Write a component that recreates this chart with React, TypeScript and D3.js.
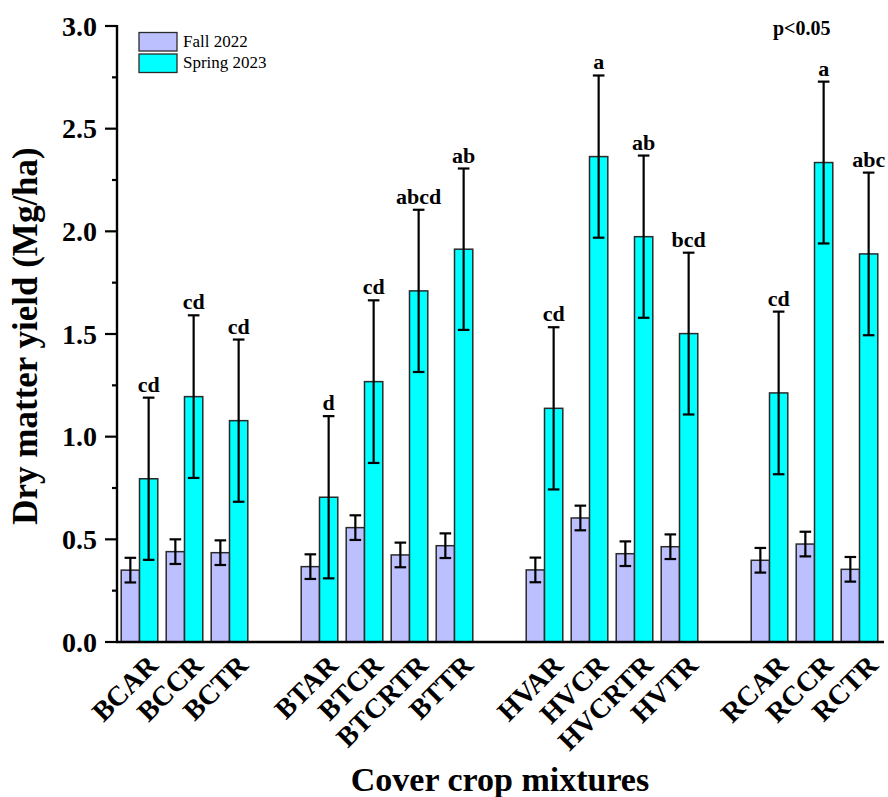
import * as d3 from "d3";

// cover crop mixtures, in four groups split by an empty slot
const mixtureGroups = [
  ["BCAR", "BCCR", "BCTR"],
  ["BTAR", "BTCR", "BTCRTR", "BTTR"],
  ["HVAR", "HVCR", "HVCRTR", "HVTR"],
  ["RCAR", "RCCR", "RCTR"],
];
const mixtures = mixtureGroups.flat();
const seasons = ["Fall 2022", "Spring 2023"];

const fallMean = [0.35, 0.44, 0.435, 0.367, 0.557, 0.424, 0.469, 0.351, 0.604, 0.43, 0.464, 0.398, 0.477, 0.354];
const fallErr = [0.06, 0.06, 0.06, 0.06, 0.06, 0.06, 0.06, 0.06, 0.06, 0.06, 0.06, 0.06, 0.06, 0.06];
const springMean = [0.795, 1.195, 1.078, 0.705, 1.268, 1.71, 1.913, 1.138, 2.364, 1.974, 1.502, 1.213, 2.335, 1.89];
const springErr = [0.395, 0.396, 0.395, 0.395, 0.396, 0.395, 0.393, 0.395, 0.395, 0.395, 0.394, 0.396, 0.394, 0.396];
const springLetters = ["cd", "cd", "cd", "d", "cd", "abcd", "ab", "cd", "a", "ab", "bcd", "cd", "a", "abc"];

const yMajor = [0, 0.5, 1.0, 1.5, 2.0, 2.5, 3.0];
const yMinor = [0.25, 0.75, 1.25, 1.75, 2.25, 2.75];

const W = 888;
const H = 797;
const left = 117;
const right = 882;
const top = 26;
const bottom = 642;
const serif = "'Liberation Serif', 'Times New Roman', serif";
const colors = { "Fall 2022": "#BCC0FF", "Spring 2023": "#00FFFF" };

export default function App() {
  // slots: mixtures with a gap slot between the groups
  const slots: string[] = [];
  mixtureGroups.forEach((g, i) => {
    if (i > 0) slots.push("gap" + i);
    slots.push(...g);
  });

  const x = d3.scaleBand(slots, [left, right]).padding(0);
  const sub = d3.scaleBand(seasons, [0, x.bandwidth()]).paddingInner(0).paddingOuter(0.23);
  const y = d3.scaleLinear([0, 3], [bottom, top]);
  const bw = sub.bandwidth();

  const rows = mixtures.flatMap((m, i) => [
    { m, s: "Fall 2022", v: fallMean[i], e: fallErr[i], letter: "" },
    { m, s: "Spring 2023", v: springMean[i], e: springErr[i], letter: springLetters[i] },
  ]);

  return (
    <div style={{ position: "absolute", left: 0, top: 0 }}>
      <svg width={W} height={H} style={{ display: "block", fontFamily: serif }}>
        <rect width={W} height={H} fill="#fff" />

        {/* bars */}
        {rows.map((d, i) => (
          <rect
            key={"b" + i}
            x={(x(d.m) ?? 0) + (sub(d.s) ?? 0)}
            y={y(d.v)}
            width={bw}
            height={y(0) - y(d.v)}
            fill={colors[d.s]}
            stroke="#2a2a2a"
            strokeWidth={1.5}
          />
        ))}

        {/* error bars */}
        {rows.map((d, i) => {
          const cx = (x(d.m) ?? 0) + (sub(d.s) ?? 0) + bw / 2;
          const y1 = y(d.v + d.e);
          const y2 = y(d.v - d.e);
          return (
            <g key={"e" + i} stroke="#000" strokeWidth={2.2}>
              <line x1={cx} x2={cx} y1={y1} y2={y2} />
              <line x1={cx - 5.8} x2={cx + 5.8} y1={y1} y2={y1} />
              <line x1={cx - 5.8} x2={cx + 5.8} y1={y2} y2={y2} />
            </g>
          );
        })}

        {/* significance letters */}
        {rows.filter((d) => d.letter).map((d, i) => (
          <text
            key={"l" + i}
            x={(x(d.m) ?? 0) + (sub(d.s) ?? 0) + bw / 2}
            y={y(d.v + d.e) - 6}
            textAnchor="middle"
            fontSize={22}
            fontWeight="bold"
          >
            {d.letter}
          </text>
        ))}

        {/* y axis */}
        <line x1={left} x2={left} y1={top - 1} y2={bottom + 1} stroke="#000" strokeWidth={2.4} />
        {yMajor.map((t) => (
          <g key={"t" + t}>
            <line x1={left - 12} x2={left} y1={y(t)} y2={y(t)} stroke="#000" strokeWidth={2.2} />
            <text
              x={left - 20}
              y={y(t)}
              dy="0.34em"
              textAnchor="end"
              fontSize={28}
              fontWeight="bold"
            >
              {d3.format(".1f")(t)}
            </text>
          </g>
        ))}
        {yMinor.map((t) => (
          <line key={"m" + t} x1={left - 5} x2={left} y1={y(t)} y2={y(t)} stroke="#000" strokeWidth={2.2} />
        ))}

        {/* x axis */}
        <line x1={left - 1} x2={W - 4} y1={bottom} y2={bottom} stroke="#000" strokeWidth={2.4} />
        {mixtures.map((m) => {
          const ax = (x(m) ?? 0) + x.bandwidth() / 2 + 20;
          const ay = bottom + 25;
          return (
            <text
              key={"x" + m}
              transform={`translate(${ax},${ay}) rotate(-45)`}
              textAnchor="end"
              fontSize={28}
              fontWeight="bold"
            >
              {m}
            </text>
          );
        })}

        {/* axis titles */}
        <text
          transform={`translate(37,${(top + bottom) / 2 + 2}) rotate(-90)`}
          textAnchor="middle"
          fontSize={35}
          fontWeight="bold"
        >
          Dry matter yield (Mg/ha)
        </text>
        <text x={500} y={791} textAnchor="middle" fontSize={34} fontWeight="bold">
          Cover crop mixtures
        </text>

        {/* legend */}
        {seasons.map((s, i) => (
          <g key={"lg" + s} transform={`translate(139,${32.5 + i * 21.5})`}>
            <rect width={38} height={18.5} fill={colors[s]} stroke="#2a2a2a" strokeWidth={1.3} />
            <text x={44} y={14.2} fontSize={17}>
              {s}
            </text>
          </g>
        ))}

        <text x={773} y={35} fontSize={20} fontWeight="bold">
          p&lt;0.05
        </text>
      </svg>
    </div>
  );
}
